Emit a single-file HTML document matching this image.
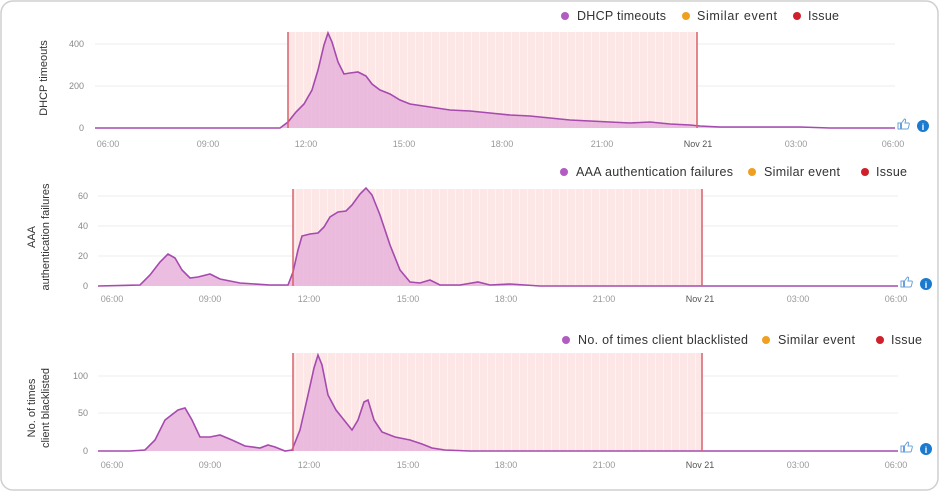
<!DOCTYPE html>
<html><head><meta charset="utf-8"><style>
body{margin:0;background:#fff;}
svg{display:block;font-family:"Liberation Sans",sans-serif;}
</style></head><body>
<svg width="939" height="491" viewBox="0 0 939 491">
<defs>
<pattern id="st" width="8" height="10" patternUnits="userSpaceOnUse"><rect width="8" height="10" fill="#fce6e6"/><rect x="7" width="1" height="10" fill="#fff" opacity="0.5"/></pattern>
<g id="thumb"><path d="M0,4 h2.5 v6 h-2.5 z M3.5,4 l3,-4 q1.5,0 1,2 l-0.5,2 h3.5 q1,0 0.8,1.2 l-1,4 q-0.3,0.8 -1.2,0.8 h-5.6 z" fill="none" stroke="#6aa0d8" stroke-width="1"/></g>
</defs>
<rect x="1" y="1" width="937" height="489" rx="12" fill="#fff" stroke="#cfcfcf" stroke-width="1.5"/>

<!-- Chart 1 -->
<g>
<line x1="95" y1="44" x2="895" y2="44" stroke="#eee"/><line x1="95" y1="86" x2="895" y2="86" stroke="#eee"/>
<rect x="288" y="32" width="409" height="96" fill="url(#st)"/>
<polygon fill="#e8b3dc" opacity="0.85" points="95,128 280,128 288,122 296,112 304,104 312,90 318,70 324,45 328,33 332,42 338,62 344,74 350,73 358,72 366,76 372,84 380,90 390,94 400,100 410,104 430,107 450,110 470,111 490,113 510,115 530,116 550,118 570,120 590,121 610,122 630,123 650,122 670,124 690,125 700,126 720,127 800,127 830,128 895,128"/>
<polyline fill="none" stroke="#a54aae" stroke-width="1.6" points="95,128 280,128 288,122 296,112 304,104 312,90 318,70 324,45 328,33 332,42 338,62 344,74 350,73 358,72 366,76 372,84 380,90 390,94 400,100 410,104 430,107 450,110 470,111 490,113 510,115 530,116 550,118 570,120 590,121 610,122 630,123 650,122 670,124 690,125 700,126 720,127 800,127 830,128 895,128"/>
<line x1="288" y1="32" x2="288" y2="128" stroke="#d9606a" stroke-width="1.5"/><line x1="697" y1="32" x2="697" y2="128" stroke="#d9606a" stroke-width="1.5"/>
<g font-size="9" fill="#888" text-anchor="end"><text x="84" y="47">400</text><text x="84" y="89">200</text><text x="84" y="131">0</text></g>
<g font-size="9" fill="#999" text-anchor="middle"><text x="108" y="147">06:00</text><text x="208" y="147">09:00</text><text x="306" y="147">12:00</text><text x="404" y="147">15:00</text><text x="502" y="147">18:00</text><text x="602" y="147">21:00</text><text x="698" y="147" fill="#555">Nov 21</text><text x="796" y="147">03:00</text><text x="893" y="147">06:00</text></g>
<text transform="translate(47,78) rotate(-90)" font-size="11" fill="#333" text-anchor="middle">DHCP timeouts</text>
<g font-size="12.5" fill="#333"><circle cx="565" cy="16" r="4" fill="#b05cc0"/><text x="577" y="20" textLength="89">DHCP timeouts</text><circle cx="686" cy="16" r="4" fill="#f0a020"/><text x="697" y="20" textLength="80">Similar event</text><circle cx="797" cy="16" r="4" fill="#d0202a"/><text x="808" y="20" textLength="31">Issue</text></g>
<use href="#thumb" x="898" y="119"/><circle cx="923" cy="126" r="6" fill="#1a7ad0"/><text x="923" y="130" font-size="9" fill="#fff" text-anchor="middle" font-weight="bold">i</text>
</g>

<!-- Chart 2 -->
<g>
<line x1="98" y1="196" x2="898" y2="196" stroke="#eee"/><line x1="98" y1="226" x2="898" y2="226" stroke="#eee"/><line x1="98" y1="256" x2="898" y2="256" stroke="#eee"/>
<rect x="293" y="189" width="409" height="97" fill="url(#st)"/>
<polygon fill="#e8b3dc" opacity="0.85" points="98,286 140,285 150,275 160,262 168,254 175,258 182,270 190,278 198,277 210,274 220,279 240,283 270,285 288,285 293,272 298,250 302,236 310,234 318,233 324,227 330,217 338,212 346,211 352,205 360,194 366,188 372,195 380,215 390,245 400,270 410,282 420,283 430,280 440,285 460,285 478,282 490,285 510,284 525,285 540,286 898,286"/>
<polyline fill="none" stroke="#a54aae" stroke-width="1.6" points="98,286 140,285 150,275 160,262 168,254 175,258 182,270 190,278 198,277 210,274 220,279 240,283 270,285 288,285 293,272 298,250 302,236 310,234 318,233 324,227 330,217 338,212 346,211 352,205 360,194 366,188 372,195 380,215 390,245 400,270 410,282 420,283 430,280 440,285 460,285 478,282 490,285 510,284 525,285 540,286 898,286"/>
<line x1="293" y1="189" x2="293" y2="286" stroke="#d9606a" stroke-width="1.5"/><line x1="702" y1="189" x2="702" y2="286" stroke="#d9606a" stroke-width="1.5"/>
<g font-size="9" fill="#888" text-anchor="end"><text x="88" y="199">60</text><text x="88" y="229">40</text><text x="88" y="259">20</text><text x="88" y="289">0</text></g>
<g font-size="9" fill="#999" text-anchor="middle"><text x="112" y="302">06:00</text><text x="210" y="302">09:00</text><text x="309" y="302">12:00</text><text x="408" y="302">15:00</text><text x="506" y="302">18:00</text><text x="604" y="302">21:00</text><text x="700" y="302" fill="#555">Nov 21</text><text x="798" y="302">03:00</text><text x="896" y="302">06:00</text></g>
<text transform="translate(35,237) rotate(-90)" font-size="11" fill="#333" text-anchor="middle">AAA</text>
<text transform="translate(49,237) rotate(-90)" font-size="11" fill="#333" text-anchor="middle">authentication failures</text>
<g font-size="12.5" fill="#333"><circle cx="564" cy="172" r="4" fill="#b05cc0"/><text x="576" y="176" textLength="157">AAA authentication failures</text><circle cx="752" cy="172" r="4" fill="#f0a020"/><text x="764" y="176" textLength="76">Similar event</text><circle cx="865" cy="172" r="4" fill="#d0202a"/><text x="876" y="176" textLength="31">Issue</text></g>
<use href="#thumb" x="901" y="277"/><circle cx="926" cy="284" r="6" fill="#1a7ad0"/><text x="926" y="288" font-size="9" fill="#fff" text-anchor="middle" font-weight="bold">i</text>
</g>

<!-- Chart 3 -->
<g>
<line x1="98" y1="376" x2="898" y2="376" stroke="#eee"/><line x1="98" y1="413" x2="898" y2="413" stroke="#eee"/>
<rect x="293" y="353" width="409" height="98" fill="url(#st)"/>
<polygon fill="#e8b3dc" opacity="0.85" points="98,451 130,451 145,450 155,440 165,420 178,410 185,408 192,420 200,437 210,437 220,435 232,440 245,446 260,448 268,445 275,447 285,451 292,450 300,430 308,395 314,368 318,355 322,365 328,395 336,410 344,420 352,430 358,420 364,402 368,400 374,420 382,432 395,437 410,440 422,444 432,448 445,450 470,451 898,451"/>
<polyline fill="none" stroke="#a54aae" stroke-width="1.6" points="98,451 130,451 145,450 155,440 165,420 178,410 185,408 192,420 200,437 210,437 220,435 232,440 245,446 260,448 268,445 275,447 285,451 292,450 300,430 308,395 314,368 318,355 322,365 328,395 336,410 344,420 352,430 358,420 364,402 368,400 374,420 382,432 395,437 410,440 422,444 432,448 445,450 470,451 898,451"/>
<line x1="293" y1="353" x2="293" y2="451" stroke="#d9606a" stroke-width="1.5"/><line x1="702" y1="353" x2="702" y2="451" stroke="#d9606a" stroke-width="1.5"/>
<g font-size="9" fill="#888" text-anchor="end"><text x="88" y="379">100</text><text x="88" y="416">50</text><text x="88" y="454">0</text></g>
<g font-size="9" fill="#999" text-anchor="middle"><text x="112" y="468">06:00</text><text x="210" y="468">09:00</text><text x="309" y="468">12:00</text><text x="408" y="468">15:00</text><text x="506" y="468">18:00</text><text x="604" y="468">21:00</text><text x="700" y="468" fill="#555">Nov 21</text><text x="798" y="468">03:00</text><text x="896" y="468">06:00</text></g>
<text transform="translate(35,408) rotate(-90)" font-size="11" fill="#333" text-anchor="middle">No. of times</text>
<text transform="translate(49,408) rotate(-90)" font-size="11" fill="#333" text-anchor="middle">client blacklisted</text>
<g font-size="12.5" fill="#333"><circle cx="566" cy="340" r="4" fill="#b05cc0"/><text x="578" y="344" textLength="170">No. of times client blacklisted</text><circle cx="766" cy="340" r="4" fill="#f0a020"/><text x="778" y="344" textLength="77">Similar event</text><circle cx="880" cy="340" r="4" fill="#d0202a"/><text x="891" y="344" textLength="31">Issue</text></g>
<use href="#thumb" x="901" y="442"/><circle cx="926" cy="449" r="6" fill="#1a7ad0"/><text x="926" y="453" font-size="9" fill="#fff" text-anchor="middle" font-weight="bold">i</text>
</g>
</svg>
</body></html>
